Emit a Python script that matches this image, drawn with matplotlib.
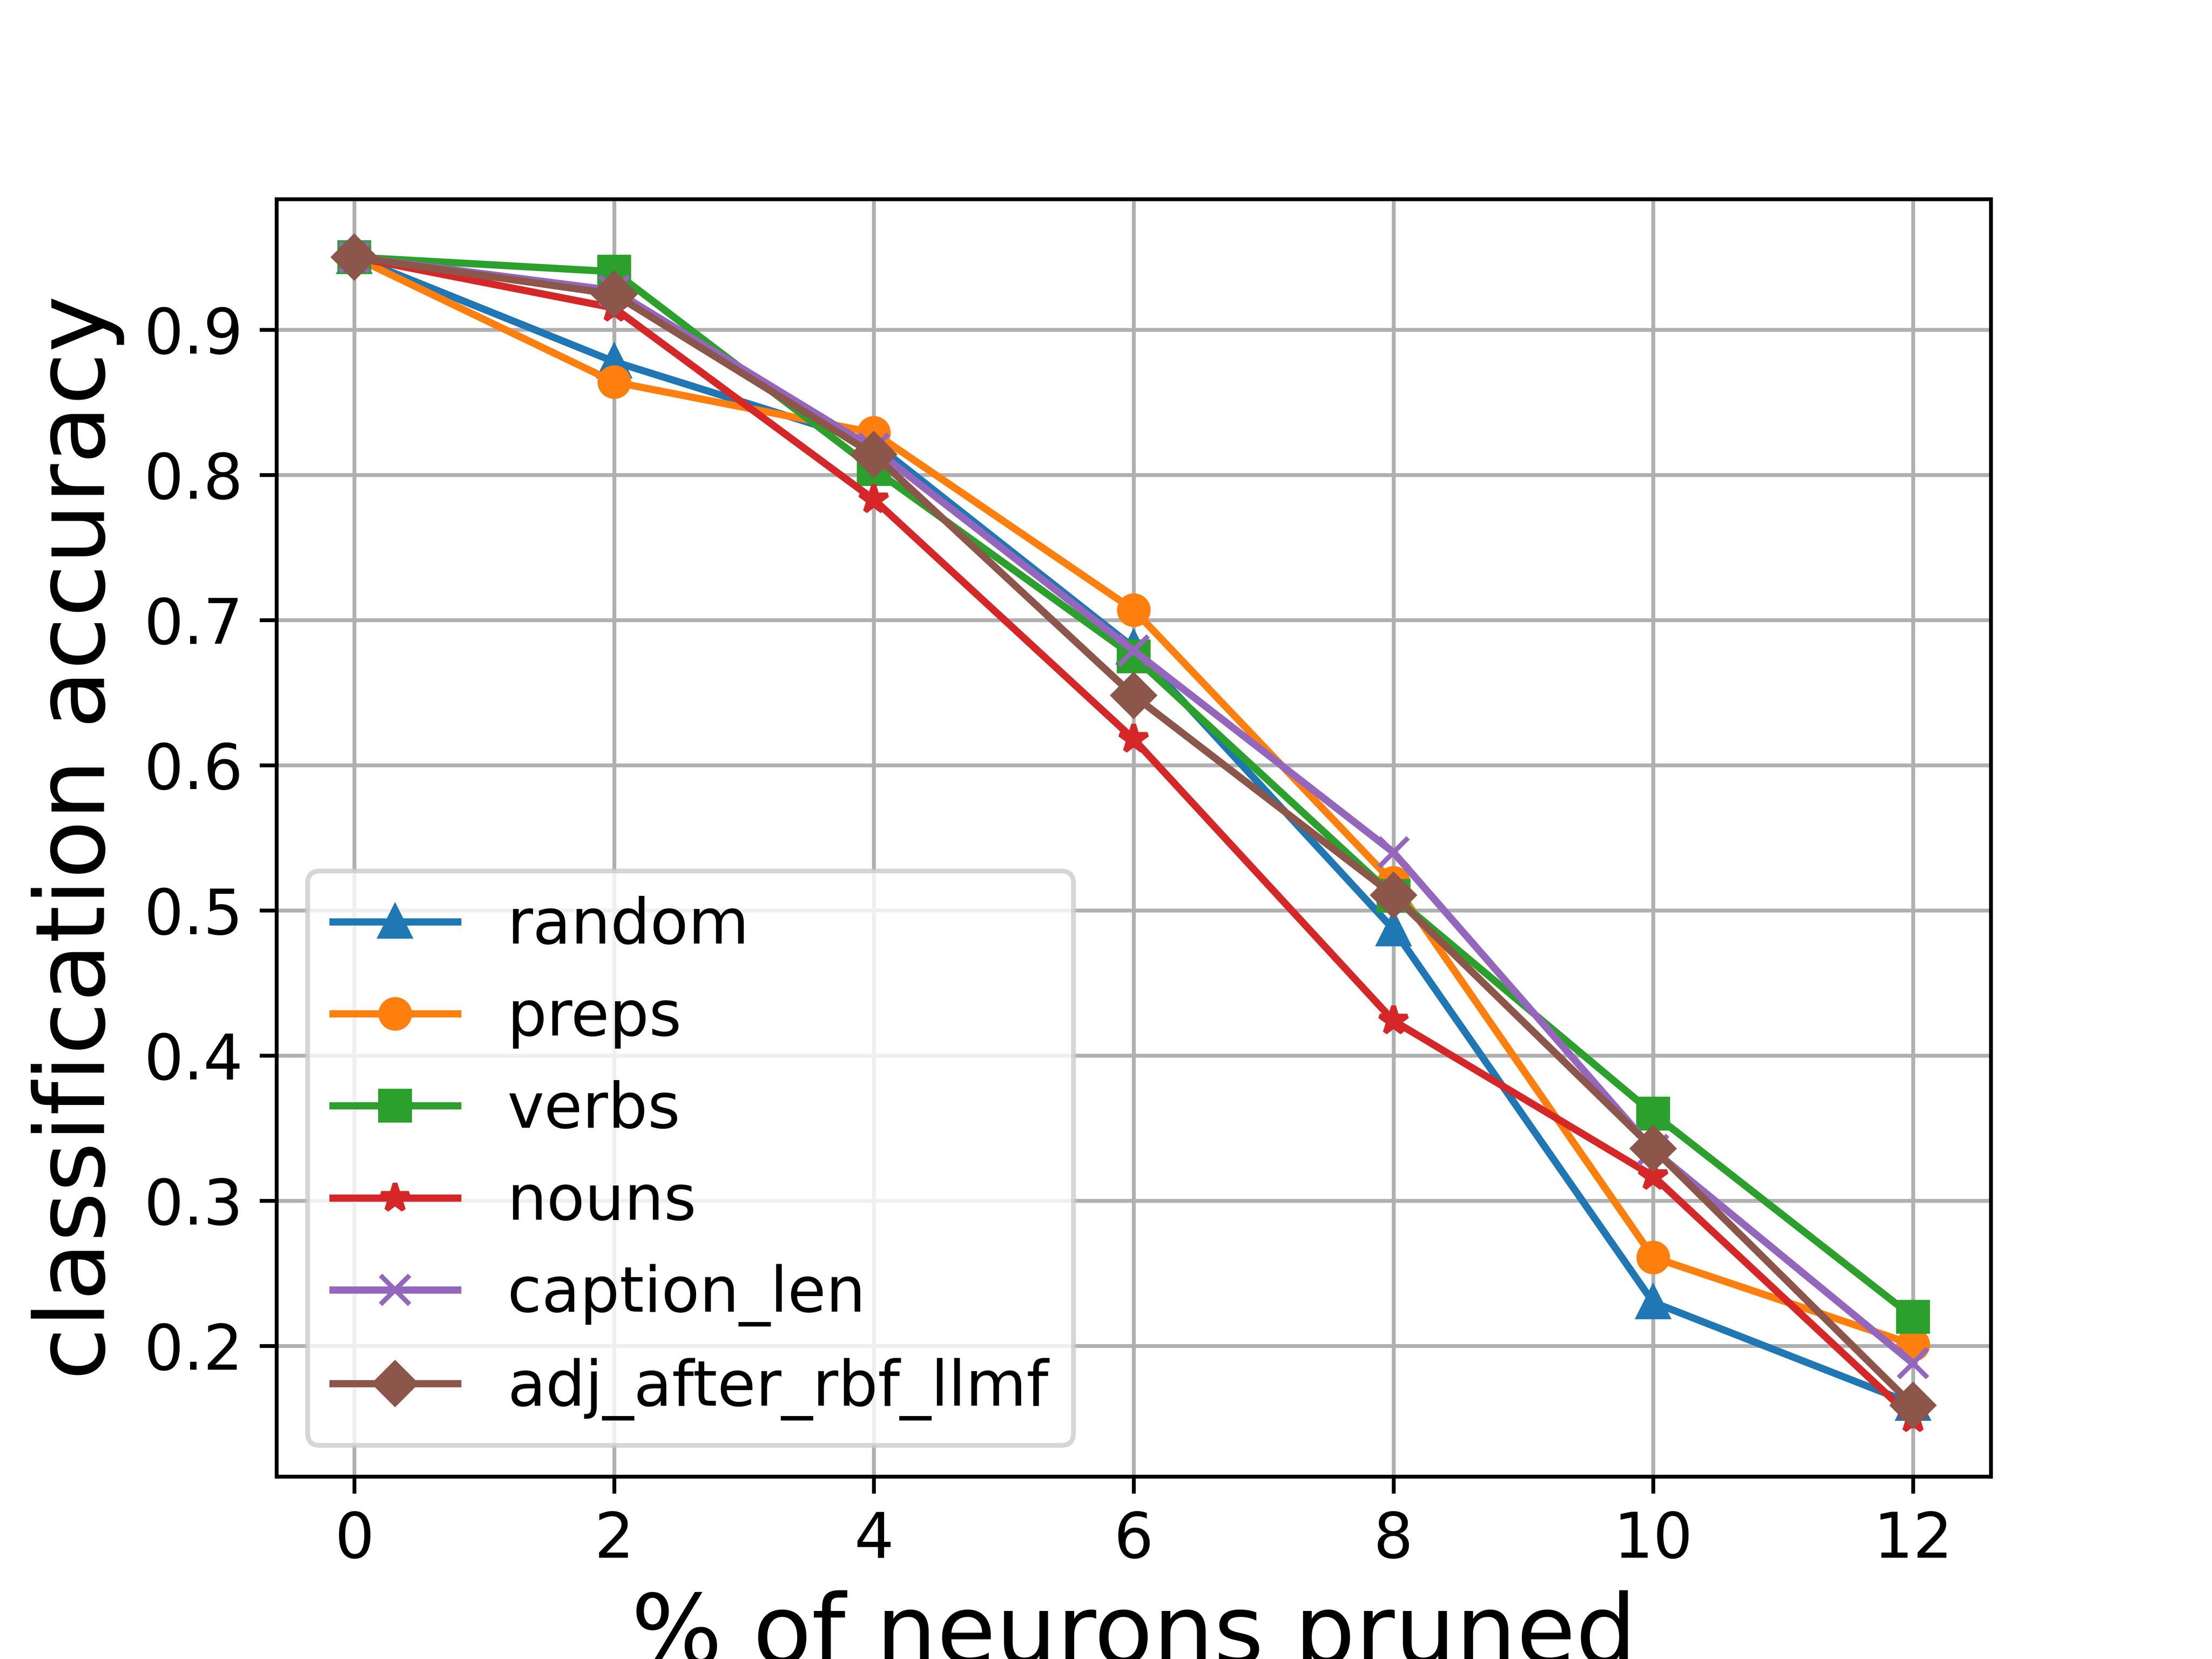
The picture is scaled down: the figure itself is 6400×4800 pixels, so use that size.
import matplotlib
matplotlib.use("Agg")
import matplotlib.pyplot as plt

# % of neurons pruned
pruned = [0, 2, 4, 6, 8, 10, 12]

# classification accuracy for each pruning criterion
random_acc = [0.95, 0.878, 0.822, 0.681, 0.487, 0.230, 0.160]
preps_acc = [0.95, 0.864, 0.829, 0.707, 0.519, 0.261, 0.201]
verbs_acc = [0.95, 0.940, 0.804, 0.675, 0.510, 0.360, 0.220]
nouns_acc = [0.95, 0.915, 0.783, 0.618, 0.424, 0.317, 0.150]
caption_len_acc = [0.95, 0.927, 0.818, 0.679, 0.540, 0.335, 0.188]
adj_acc = [0.95, 0.9245, 0.814, 0.648, 0.5105, 0.336, 0.159]

labels = ['random', 'preps', 'verbs', 'nouns', 'caption_len', 'adj_after_rbf_llmf']
markers = ['^', 'o', 's', '*', 'x', 'D']
series = [random_acc, preps_acc, verbs_acc, nouns_acc, caption_len_acc, adj_acc]

fig = plt.figure(figsize=(6.4, 4.8))
for acc, m, lab in zip(series, markers, labels):
	plt.plot(pruned, acc, marker=m, label=lab)

plt.grid(True)
plt.xticks(fontsize=13)
plt.yticks(fontsize=13)
plt.xlabel('% of neurons pruned', fontsize=20)
plt.ylabel('classification accuracy', fontsize=20)
plt.legend(loc='lower left', fontsize=13)
plt.savefig('out.png', dpi=1000)
